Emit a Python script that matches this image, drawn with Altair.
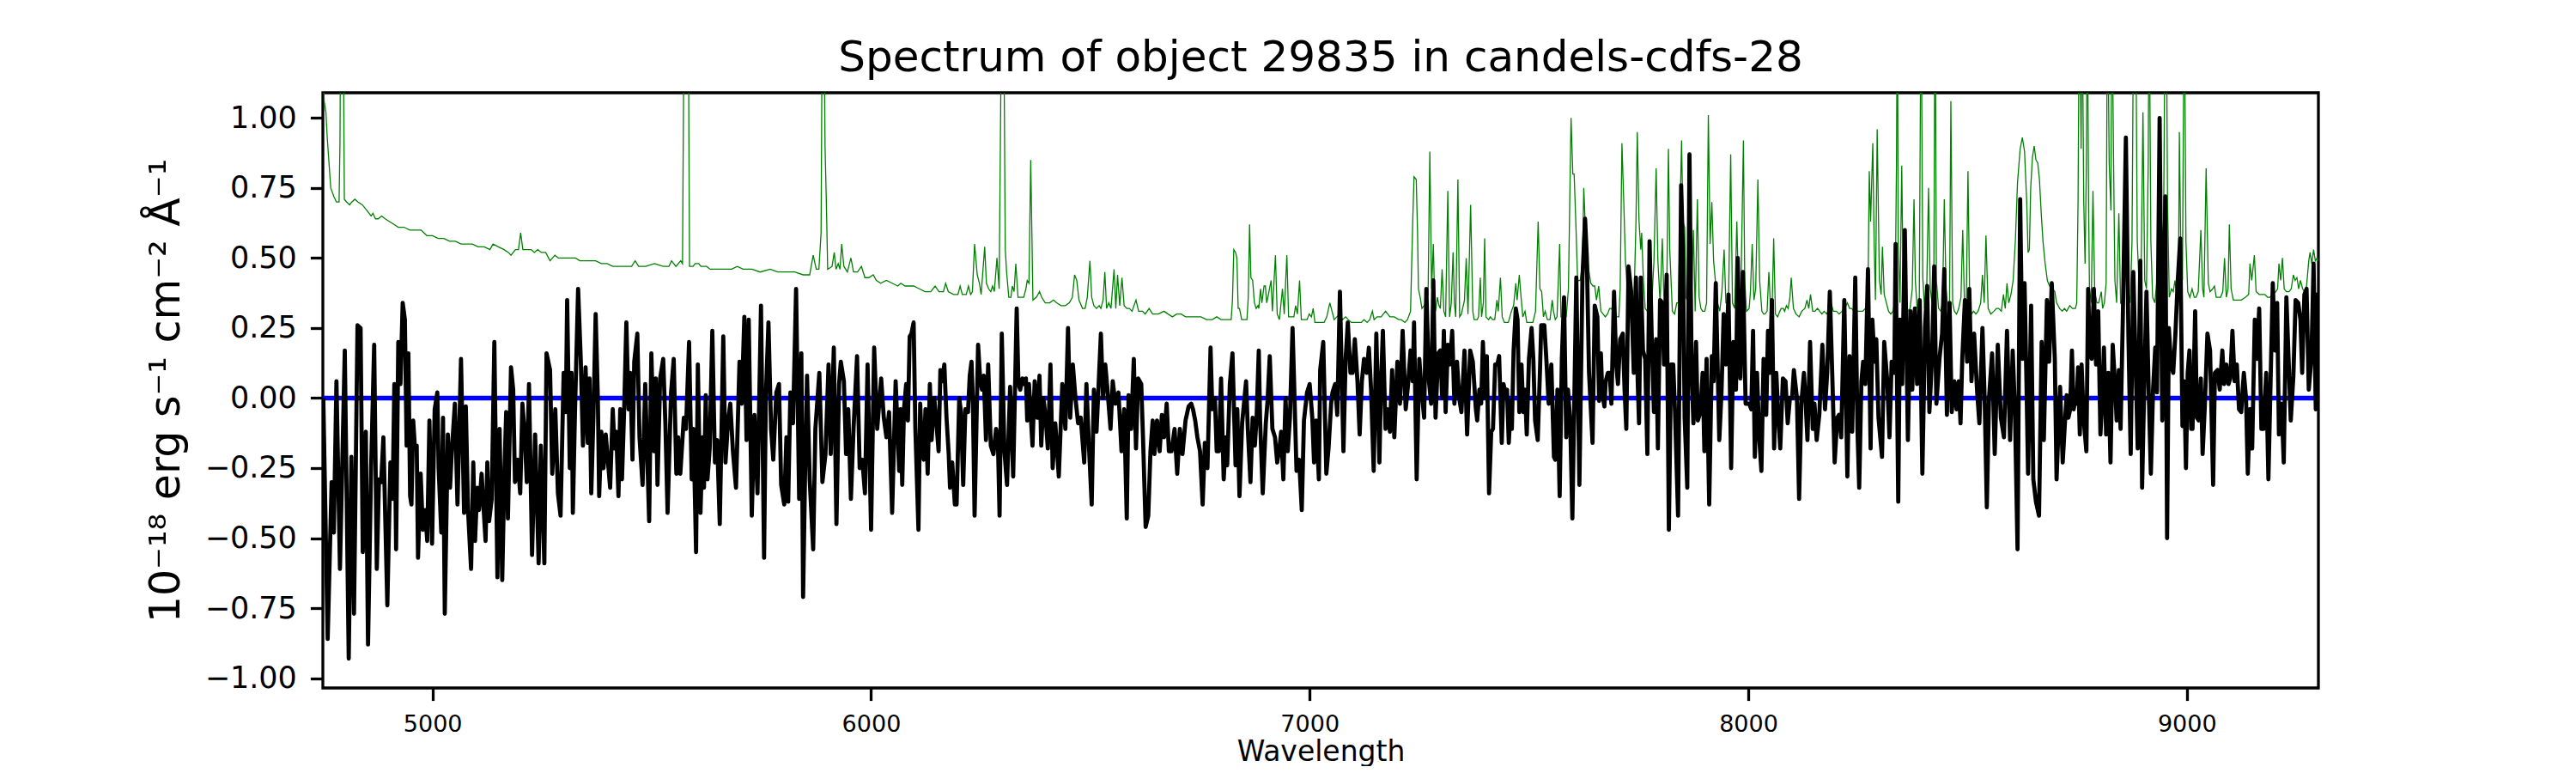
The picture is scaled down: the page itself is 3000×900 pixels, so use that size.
import altair as alt
import pandas as pd

# ---------------- data ----------------
# observed flux (black), pairs of (wavelength [A], flux [1e-18 erg/s/cm2/A])
flux_4750_5410 = [
    (4751, 0.00), (4761, -0.86), (4770, -0.30), (4775, -0.48), (4781, 0.06), (4789, -0.61),
    (4800, 0.17), (4809, -0.93), (4815, -0.21), (4821, -0.77), (4829, 0.26), (4836, 0.25),
    (4841, -0.55), (4848, -0.12), (4853, -0.88), (4860, -0.25), (4867, 0.19), (4873, -0.61),
    (4878, -0.29), (4883, -0.30), (4888, -0.14), (4897, -0.74), (4904, -0.23), (4909, -0.36),
    (4913, 0.05), (4917, -0.54), (4922, 0.20), (4927, 0.05), (4932, 0.34), (4937, 0.28),
    (4941, -0.17), (4945, 0.16), (4949, -0.35), (4952, -0.38), (4956, -0.08), (4960, -0.18),
    (4964, -0.17), (4967, -0.57), (4973, -0.27), (4978, -0.47), (4983, -0.40), (4988, -0.51),
    (4993, -0.08), (4999, -0.52), (5005, -0.04), (5011, 0.02), (5014, -0.25), (5020, -0.48),
    (5024, -0.07), (5028, -0.77), (5035, -0.13), (5040, -0.32), (5044, -0.19), (5051, -0.02),
    (5057, -0.38), (5065, 0.14), (5072, -0.41), (5076, -0.03), (5081, -0.40), (5088, -0.61),
    (5093, -0.23), (5097, -0.51), (5102, -0.32), (5106, -0.40), (5112, -0.27), (5116, -0.38),
    (5121, -0.51), (5125, -0.23), (5129, -0.44), (5135, -0.36), (5141, 0.20), (5148, -0.64),
    (5153, -0.11), (5159, -0.65), (5164, -0.26), (5168, -0.05), (5172, -0.43), (5179, 0.11),
    (5184, 0.03), (5188, -0.30), (5194, -0.22), (5200, -0.34), (5205, -0.02), (5210, -0.12),
    (5215, -0.30), (5220, 0.05), (5227, -0.56), (5234, -0.13), (5242, -0.59), (5247, -0.17),
    (5255, -0.59), (5260, 0.16), (5268, 0.10), (5273, -0.27), (5280, -0.04), (5286, -0.34),
    (5292, -0.42), (5299, 0.09), (5304, -0.05), (5307, 0.35), (5313, -0.25), (5317, 0.09),
    (5320, -0.41), (5325, -0.04), (5332, 0.39), (5338, 0.14), (5343, -0.17), (5349, 0.11),
    (5354, -0.16), (5358, 0.07), (5362, -0.34), (5367, -0.06), (5372, 0.30), (5377, 0.00),
    (5380, -0.35), (5385, -0.12), (5390, -0.25), (5395, -0.13), (5405, -0.32), (5411, -0.04),
]
flux_5410_6065 = [
    (5415, -0.18), (5419, -0.12), (5424, -0.35), (5428, -0.04), (5432, -0.29), (5437, -0.04),
    (5442, 0.27), (5447, -0.04), (5451, 0.09), (5456, -0.22), (5460, 0.13), (5467, 0.23),
    (5472, -0.14), (5479, -0.31), (5485, 0.05), (5494, -0.44), (5499, 0.16), (5505, -0.19),
    (5509, 0.07), (5513, -0.31), (5519, 0.07), (5526, 0.14), (5531, -0.09), (5536, -0.41),
    (5544, 0.02), (5550, 0.14), (5556, -0.27), (5560, -0.14), (5565, -0.27), (5573, -0.07),
    (5578, -0.11), (5585, 0.20), (5591, -0.29), (5595, -0.11), (5601, -0.55), (5605, 0.12),
    (5611, -0.41), (5616, -0.14), (5619, -0.32), (5623, 0.01), (5627, -0.29), (5632, -0.18),
    (5638, 0.24), (5644, -0.23), (5649, -0.15), (5655, -0.45), (5663, 0.22), (5668, -0.23),
    (5674, -0.08), (5679, -0.02), (5685, -0.19), (5692, -0.32), (5700, 0.13), (5705, -0.02),
    (5711, 0.29), (5716, -0.15), (5721, 0.28), (5728, -0.42), (5734, -0.06), (5741, -0.34),
    (5749, 0.33), (5756, -0.57), (5760, 0.00), (5766, 0.27), (5772, -0.11), (5777, -0.22),
    (5784, 0.02), (5790, 0.05), (5795, -0.31), (5802, -0.38), (5807, -0.14), (5811, -0.37),
    (5816, 0.02), (5822, -0.09), (5829, 0.39), (5836, -0.36), (5841, 0.16), (5845, -0.71),
    (5850, -0.22), (5854, 0.08), (5860, -0.29), (5868, -0.54), (5873, -0.11), (5882, 0.09),
    (5889, -0.30), (5896, -0.20), (5903, 0.12), (5908, -0.20), (5915, 0.18), (5921, -0.45),
    (5927, 0.05), (5931, 0.13), (5938, 0.06), (5943, -0.20), (5948, -0.04), (5954, -0.36),
    (5960, -0.11), (5968, 0.15), (5974, -0.25), (5980, -0.22), (5986, -0.34), (5992, 0.12),
    (6000, -0.47), (6007, 0.18), (6014, -0.11), (6023, 0.07), (6029, -0.07), (6035, -0.14),
    (6041, -0.05), (6048, -0.41), (6056, 0.06), (6064, -0.26),
]
flux_6065_6725 = [
    (6067, -0.04), (6071, -0.31), (6075, -0.04), (6080, 0.05), (6084, -0.08), (6088, 0.22),
    (6092, 0.23), (6097, 0.27), (6101, -0.11), (6108, -0.47), (6112, -0.02), (6116, -0.18),
    (6120, -0.22), (6124, -0.04), (6129, -0.27), (6134, 0.05), (6138, -0.15), (6144, 0.00),
    (6149, -0.09), (6154, -0.19), (6158, 0.10), (6162, 0.06), (6167, 0.12), (6172, -0.07),
    (6177, -0.20), (6180, -0.32), (6185, -0.23), (6191, -0.38), (6195, -0.38), (6201, 0.00),
    (6205, -0.05), (6210, -0.31), (6215, -0.04), (6221, -0.05), (6225, 0.08), (6229, 0.13),
    (6232, 0.00), (6236, -0.42), (6244, 0.19), (6249, 0.06), (6253, 0.03), (6257, 0.08),
    (6262, -0.15), (6267, 0.12), (6273, -0.17), (6279, -0.20), (6285, -0.11), (6289, -0.14),
    (6293, -0.42), (6298, 0.23), (6304, -0.19), (6310, -0.31), (6317, 0.04), (6324, -0.28),
    (6332, 0.32), (6336, 0.05), (6340, 0.03), (6345, 0.07), (6349, 0.05), (6353, 0.07),
    (6356, -0.08), (6360, 0.05), (6368, -0.17), (6373, 0.06), (6379, -0.07), (6384, 0.08),
    (6388, -0.17), (6393, 0.00), (6398, -0.07), (6403, -0.18), (6409, 0.12), (6414, -0.25),
    (6420, -0.09), (6428, -0.28), (6436, 0.05), (6443, -0.11), (6449, 0.25), (6454, -0.07),
    (6460, 0.12), (6466, 0.00), (6472, -0.09), (6478, -0.07), (6486, -0.23), (6491, 0.05),
    (6497, -0.18), (6503, -0.38), (6508, 0.03), (6514, -0.12), (6524, 0.23), (6529, 0.00),
    (6534, 0.12), (6539, 0.03), (6546, -0.11), (6551, 0.06), (6557, -0.02), (6564, 0.02),
    (6571, -0.19), (6577, -0.04), (6583, -0.43), (6587, 0.01), (6593, -0.11), (6599, 0.14),
    (6604, -0.18), (6609, 0.07), (6616, 0.05), (6620, -0.14), (6626, -0.46), (6632, -0.42),
    (6637, -0.19), (6642, -0.08), (6646, -0.20), (6652, -0.08), (6658, -0.19), (6663, -0.06),
    (6668, -0.14), (6674, -0.02), (6679, -0.19), (6685, -0.19), (6692, -0.11), (6698, -0.27),
    (6704, -0.11), (6710, -0.20), (6717, -0.08), (6724, -0.03),
]
flux_6725_7380 = [
    (6730, -0.02), (6734, -0.04), (6739, -0.08), (6744, -0.14), (6750, -0.19), (6756, -0.38),
    (6761, -0.16), (6767, -0.25), (6774, 0.18), (6778, -0.04), (6784, 0.00), (6788, -0.19),
    (6793, -0.19), (6798, 0.07), (6804, -0.29), (6809, -0.14), (6812, -0.24), (6818, 0.05),
    (6824, 0.16), (6831, -0.24), (6835, -0.04), (6840, -0.35), (6846, -0.09), (6855, 0.06),
    (6859, -0.11), (6865, -0.30), (6870, -0.07), (6875, -0.17), (6879, -0.07), (6884, 0.17),
    (6887, -0.08), (6893, -0.34), (6900, -0.09), (6904, -0.01), (6909, 0.15), (6915, -0.11),
    (6921, -0.14), (6926, -0.23), (6931, -0.18), (6935, -0.12), (6940, -0.29), (6945, 0.00),
    (6950, -0.19), (6955, -0.07), (6961, 0.25), (6965, 0.03), (6970, -0.26), (6976, -0.22),
    (6982, -0.40), (6987, -0.08), (6994, 0.02), (7000, 0.05), (7006, -0.07), (7010, -0.23),
    (7015, -0.08), (7021, -0.29), (7024, 0.10), (7031, 0.20), (7038, -0.27), (7043, -0.18),
    (7049, -0.02), (7052, 0.02), (7058, 0.05), (7063, -0.06), (7069, 0.38), (7077, -0.19),
    (7082, 0.14), (7087, 0.27), (7093, 0.09), (7098, 0.09), (7103, 0.21), (7109, 0.06),
    (7114, -0.13), (7119, 0.06), (7124, 0.14), (7130, 0.09), (7135, 0.18), (7140, 0.03),
    (7146, -0.26), (7152, 0.23), (7159, -0.23), (7163, 0.07), (7167, 0.24), (7173, -0.11),
    (7178, -0.04), (7183, -0.12), (7188, 0.10), (7193, -0.14), (7200, 0.13), (7206, -0.02),
    (7212, 0.24), (7219, -0.04), (7225, 0.06), (7230, 0.17), (7235, 0.06), (7238, 0.27),
    (7244, -0.29), (7250, 0.14), (7255, 0.03), (7261, -0.07), (7266, 0.39), (7272, 0.06),
    (7277, -0.02), (7282, 0.42), (7287, -0.07), (7293, 0.16), (7298, 0.17), (7302, 0.00),
    (7306, 0.24), (7310, -0.05), (7315, 0.19), (7320, 0.12), (7325, 0.24), (7330, -0.02),
    (7336, 0.13), (7341, 0.00), (7346, -0.05), (7353, 0.17), (7359, -0.13), (7366, 0.17),
    (7372, 0.13), (7379, -0.04),
]
flux_7380_8036 = [
    (7382, -0.08), (7387, 0.03), (7391, -0.02), (7395, 0.20), (7400, 0.00), (7404, 0.15),
    (7409, -0.34), (7414, -0.12), (7418, -0.11), (7423, 0.12), (7428, 0.12), (7432, 0.15),
    (7438, -0.16), (7442, 0.05), (7446, 0.02), (7450, 0.03), (7454, -0.16), (7459, -0.01),
    (7461, -0.11), (7465, 0.17), (7470, 0.32), (7474, 0.28), (7478, -0.05), (7483, 0.12),
    (7487, -0.05), (7491, 0.03), (7495, -0.13), (7500, 0.14), (7506, 0.25), (7510, 0.14),
    (7514, -0.08), (7520, -0.15), (7525, 0.09), (7528, 0.26), (7535, 0.26), (7540, 0.13),
    (7545, -0.02), (7551, 0.12), (7557, -0.21), (7560, -0.22), (7565, 0.03), (7570, -0.35),
    (7575, 0.14), (7580, 0.36), (7585, -0.14), (7589, 0.03), (7594, -0.08), (7599, -0.43),
    (7608, 0.43), (7615, -0.31), (7622, 0.43), (7628, 0.64), (7632, 0.50), (7637, 0.09),
    (7645, -0.16), (7650, 0.33), (7656, 0.29), (7660, -0.01), (7664, 0.16), (7667, 0.02),
    (7672, -0.03), (7675, 0.06), (7680, 0.09), (7684, 0.09), (7688, -0.02), (7694, 0.38),
    (7699, 0.12), (7703, 0.05), (7708, 0.21), (7714, 0.23), (7718, 0.03), (7722, -0.11),
    (7727, 0.47), (7733, 0.38), (7739, 0.09), (7744, 0.43), (7748, 0.06), (7751, -0.09),
    (7755, 0.43), (7760, 0.17), (7765, 0.14), (7770, -0.20), (7775, 0.56), (7780, 0.21),
    (7785, -0.05), (7790, 0.21), (7794, -0.18), (7799, 0.35), (7804, 0.34), (7808, 0.12),
    (7814, 0.44), (7819, -0.47), (7824, 0.12), (7829, 0.12), (7833, -0.05), (7840, -0.42),
    (7847, 0.76), (7851, 0.53), (7855, -0.07), (7861, -0.32), (7866, 0.87), (7871, 0.09),
    (7875, -0.09), (7881, 0.20), (7885, -0.08), (7891, -0.05), (7896, 0.09), (7900, -0.19),
    (7905, 0.14), (7911, -0.38), (7917, 0.15), (7921, 0.06), (7926, 0.41), (7934, -0.15),
    (7939, 0.02), (7944, 0.30), (7949, 0.12), (7955, 0.37), (7961, -0.25), (7966, 0.20),
    (7972, 0.03), (7976, 0.50), (7982, 0.07), (7988, 0.45), (7994, -0.02), (8002, -0.02),
    (8007, -0.04), (8011, 0.24), (8015, -0.21), (8020, 0.09), (8025, -0.14), (8030, -0.26),
    (8035, 0.14),
]
flux_8036_8695 = [
    (8041, -0.06), (8045, 0.24), (8049, 0.09), (8054, 0.35), (8059, -0.18), (8064, 0.09),
    (8068, -0.05), (8073, -0.18), (8079, 0.07), (8085, 0.06), (8090, -0.09), (8095, 0.00),
    (8100, 0.00), (8104, 0.10), (8111, 0.00), (8116, -0.36), (8121, -0.02), (8127, 0.09),
    (8131, -0.02), (8135, -0.15), (8141, 0.20), (8147, -0.11), (8151, -0.02), (8156, -0.15),
    (8162, -0.06), (8169, 0.19), (8175, -0.04), (8180, 0.09), (8186, 0.38), (8192, 0.06),
    (8197, -0.23), (8203, -0.07), (8207, -0.06), (8212, -0.14), (8219, 0.35), (8226, -0.28),
    (8231, 0.15), (8237, -0.12), (8244, 0.43), (8249, -0.11), (8253, -0.32), (8258, 0.06),
    (8262, 0.13), (8267, 0.05), (8273, 0.46), (8279, -0.18), (8283, 0.28), (8288, 0.13),
    (8292, 0.21), (8297, -0.07), (8305, -0.21), (8310, 0.20), (8317, 0.06), (8322, -0.14),
    (8327, 0.13), (8333, 0.09), (8336, 0.55), (8342, -0.37), (8346, 0.28), (8351, 0.05),
    (8357, 0.60), (8364, -0.15), (8370, 0.31), (8374, 0.03), (8380, 0.32), (8385, 0.05),
    (8391, 0.35), (8397, -0.27), (8403, 0.25), (8408, 0.40), (8413, -0.05), (8419, 0.14),
    (8424, 0.47), (8429, -0.02), (8436, 0.14), (8442, 0.23), (8447, 0.46), (8453, -0.06),
    (8459, 0.34), (8464, -0.05), (8470, 0.06), (8475, -0.04), (8480, 0.06), (8484, -0.09),
    (8488, 0.14), (8494, 0.35), (8499, 0.13), (8504, 0.39), (8509, 0.06), (8515, 0.23),
    (8522, 0.02), (8527, -0.09), (8534, 0.25), (8539, 0.00), (8544, -0.39), (8549, 0.00),
    (8556, 0.16), (8562, -0.20), (8569, 0.19), (8576, -0.07), (8583, -0.14), (8590, 0.24),
    (8597, -0.15), (8603, 0.17), (8608, -0.04), (8614, -0.54), (8620, 0.71), (8625, 0.14),
    (8630, 0.41), (8634, 0.09), (8638, -0.27), (8645, 0.33), (8650, -0.29), (8656, -0.37),
    (8663, -0.42), (8669, 0.20), (8674, -0.15), (8681, 0.35), (8686, 0.13), (8692, 0.41),
]
flux_8695_9300 = [
    (8699, 0.14), (8703, -0.29), (8711, 0.04), (8717, -0.23), (8722, -0.09), (8726, 0.01),
    (8730, -0.07), (8734, -0.04), (8738, 0.17), (8742, -0.04), (8746, 0.00), (8749, -0.02),
    (8752, 0.11), (8756, -0.13), (8760, 0.12), (8765, -0.08), (8771, -0.19), (8775, 0.39),
    (8778, 0.21), (8783, 0.14), (8788, 0.39), (8793, 0.12), (8798, 0.31), (8803, -0.13),
    (8807, -0.01), (8811, 0.18), (8816, -0.13), (8821, 0.09), (8826, -0.23), (8831, 0.19),
    (8836, 0.06), (8840, -0.08), (8845, 0.10), (8849, -0.11), (8854, 0.28), (8861, 0.93),
    (8867, 0.21), (8872, -0.20), (8878, 0.45), (8883, 0.14), (8888, -0.18), (8894, 0.49),
    (8898, -0.32), (8903, 0.05), (8908, 0.38), (8913, 0.03), (8918, -0.27), (8923, 0.03),
    (8928, 0.18), (8932, 0.02), (8938, 1.00), (8944, -0.08), (8951, 0.72), (8955, -0.50),
    (8959, 0.25), (8964, 0.12), (8969, 0.09), (8974, 0.23), (8979, 0.41), (8985, 0.57),
    (8990, -0.10), (8994, 0.06), (8998, -0.25), (9002, 0.09), (9006, 0.17), (9010, -0.11),
    (9013, -0.11), (9019, 0.31), (9023, -0.07), (9027, -0.08), (9032, 0.07), (9036, -0.20),
    (9041, -0.03), (9047, 0.23), (9053, 0.17), (9060, -0.31), (9064, 0.09), (9070, 0.10),
    (9075, 0.03), (9081, 0.17), (9085, 0.05), (9090, 0.12), (9095, 0.05), (9099, 0.07),
    (9104, 0.24), (9109, 0.06), (9114, 0.12), (9119, -0.04), (9124, -0.05), (9130, 0.09),
    (9135, 0.00), (9139, -0.27), (9144, -0.04), (9149, -0.18), (9155, 0.28), (9160, 0.14),
    (9165, 0.32), (9170, -0.11), (9175, -0.11), (9181, 0.09), (9186, -0.29), (9192, 0.13),
    (9196, 0.41), (9201, 0.17), (9206, 0.34), (9210, -0.13), (9216, -0.02), (9221, -0.23),
    (9227, 0.36), (9232, 0.14), (9237, -0.08), (9243, 0.08), (9248, 0.35), (9254, 0.34),
    (9259, 0.28), (9263, 0.09), (9268, 0.37), (9273, 0.39), (9278, 0.03), (9284, 0.14),
    (9289, 0.48), (9294, -0.04), (9297, 0.37), (9300, 0.14),
]

# noise / sky spectrum (green), pairs of (wavelength, flux)
noise_4750_5410 = [
    (4750, 1.30), (4753, 1.06), (4757, 1.02), (4760, 0.93), (4764, 0.84), (4768, 0.75),
    (4775, 0.72), (4781, 0.70), (4787, 0.70), (4789, 0.91), (4791, 1.50), (4796, 1.50),
    (4799, 0.71), (4804, 0.70), (4811, 0.69), (4816, 0.70), (4823, 0.71), (4830, 0.70),
    (4840, 0.69), (4850, 0.67), (4860, 0.65), (4864, 0.66), (4870, 0.64), (4876, 0.64),
    (4884, 0.65), (4892, 0.64), (4902, 0.63), (4912, 0.62), (4922, 0.61), (4935, 0.61),
    (4948, 0.60), (4961, 0.60), (4974, 0.60), (4987, 0.58), (5000, 0.58), (5013, 0.57),
    (5026, 0.57), (5039, 0.56), (5052, 0.56), (5065, 0.55), (5078, 0.55), (5091, 0.55),
    (5104, 0.54), (5118, 0.54), (5131, 0.53), (5138, 0.55), (5150, 0.54), (5163, 0.53),
    (5173, 0.52), (5179, 0.51), (5189, 0.53), (5196, 0.53), (5201, 0.59), (5206, 0.53),
    (5215, 0.53), (5225, 0.53), (5232, 0.52), (5240, 0.53), (5248, 0.52), (5258, 0.52),
    (5268, 0.49), (5279, 0.51), (5287, 0.50), (5300, 0.50), (5313, 0.50), (5326, 0.50),
    (5336, 0.49), (5346, 0.49), (5359, 0.49), (5372, 0.49), (5385, 0.48), (5398, 0.48),
    (5411, 0.47),
]
noise_5410_6070 = [
    (5415, 0.47), (5434, 0.47), (5454, 0.47), (5462, 0.49), (5470, 0.47), (5486, 0.47),
    (5506, 0.48), (5526, 0.47), (5539, 0.47), (5545, 0.49), (5555, 0.47), (5566, 0.49),
    (5570, 0.48), (5574, 1.50), (5583, 1.50), (5586, 0.47), (5594, 0.47), (5599, 0.48),
    (5607, 0.48), (5612, 0.47), (5625, 0.47), (5633, 0.46), (5646, 0.46), (5656, 0.46),
    (5669, 0.46), (5682, 0.46), (5695, 0.47), (5708, 0.46), (5728, 0.46), (5747, 0.45),
    (5770, 0.46), (5787, 0.45), (5806, 0.45), (5826, 0.45), (5845, 0.44), (5860, 0.44),
    (5868, 0.51), (5875, 0.46), (5881, 0.46), (5886, 0.59), (5889, 1.50), (5892, 1.50),
    (5895, 0.90), (5898, 0.70), (5901, 0.46), (5911, 0.47), (5916, 0.52), (5920, 0.46),
    (5925, 0.48), (5929, 0.46), (5933, 0.55), (5938, 0.47), (5946, 0.45), (5954, 0.50),
    (5960, 0.45), (5969, 0.45), (5978, 0.47), (5986, 0.43), (5995, 0.43), (6005, 0.44),
    (6012, 0.42), (6022, 0.41), (6035, 0.42), (6048, 0.41), (6061, 0.40), (6068, 0.41),
]
noise_6070_6725 = [
    (6077, 0.40), (6097, 0.40), (6110, 0.39), (6123, 0.38), (6136, 0.38), (6146, 0.40),
    (6155, 0.38), (6165, 0.38), (6170, 0.41), (6176, 0.38), (6188, 0.37), (6198, 0.37),
    (6203, 0.40), (6208, 0.37), (6217, 0.37), (6222, 0.40), (6227, 0.37), (6231, 0.38),
    (6236, 0.55), (6242, 0.44), (6247, 0.41), (6251, 0.37), (6259, 0.54), (6263, 0.41),
    (6268, 0.39), (6273, 0.38), (6277, 0.40), (6281, 0.38), (6287, 0.50), (6292, 0.39),
    (6298, 1.50), (6302, 1.50), (6306, 0.53), (6309, 0.45), (6314, 0.36), (6319, 0.36),
    (6322, 0.40), (6326, 0.38), (6330, 0.48), (6335, 0.36), (6341, 0.36), (6348, 0.36),
    (6353, 0.39), (6356, 0.42), (6360, 0.41), (6364, 0.85), (6369, 0.35), (6377, 0.36),
    (6384, 0.38), (6389, 0.36), (6397, 0.34), (6407, 0.34), (6416, 0.35), (6423, 0.34),
    (6433, 0.33), (6443, 0.33), (6452, 0.34), (6459, 0.36), (6464, 0.44), (6469, 0.42),
    (6474, 0.35), (6482, 0.32), (6488, 0.32), (6493, 0.36), (6499, 0.49), (6503, 0.36),
    (6508, 0.33), (6514, 0.32), (6520, 0.33), (6524, 0.32), (6529, 0.35), (6533, 0.45),
    (6537, 0.32), (6542, 0.34), (6547, 0.32), (6554, 0.46), (6558, 0.32), (6562, 0.44),
    (6567, 0.33), (6572, 0.43), (6577, 0.33), (6583, 0.32), (6589, 0.32), (6595, 0.31),
    (6604, 0.35), (6610, 0.31), (6619, 0.31), (6625, 0.30), (6634, 0.32), (6642, 0.30),
    (6655, 0.30), (6668, 0.31), (6677, 0.30), (6687, 0.29), (6697, 0.30), (6707, 0.30),
    (6717, 0.29), (6724, 0.29),
]
noise_6725_7380 = [
    (6739, 0.29), (6752, 0.29), (6765, 0.28), (6778, 0.28), (6788, 0.29), (6798, 0.28),
    (6811, 0.28), (6821, 0.28), (6824, 0.35), (6827, 0.53), (6831, 0.52), (6834, 0.50),
    (6837, 0.32), (6840, 0.32), (6845, 0.28), (6850, 0.28), (6857, 0.28), (6860, 0.36),
    (6863, 0.62), (6866, 0.43), (6870, 0.42), (6874, 0.34), (6878, 0.32), (6882, 0.33),
    (6884, 0.32), (6888, 0.39), (6891, 0.34), (6896, 0.40), (6899, 0.40), (6902, 0.34),
    (6906, 0.37), (6912, 0.42), (6915, 0.31), (6922, 0.51), (6926, 0.30), (6931, 0.28),
    (6938, 0.39), (6942, 0.30), (6948, 0.51), (6952, 0.29), (6958, 0.29), (6964, 0.29),
    (6968, 0.33), (6972, 0.30), (6977, 0.42), (6981, 0.28), (6987, 0.28), (6994, 0.28),
    (6999, 0.30), (7004, 0.29), (7008, 0.32), (7012, 0.27), (7020, 0.27), (7026, 0.27),
    (7033, 0.27), (7039, 0.29), (7046, 0.34), (7051, 0.31), (7056, 0.28), (7062, 0.29),
    (7069, 0.30), (7075, 0.28), (7082, 0.29), (7088, 0.28), (7095, 0.27), (7101, 0.27),
    (7111, 0.27), (7118, 0.27), (7124, 0.28), (7131, 0.27), (7137, 0.28), (7143, 0.31),
    (7147, 0.28), (7154, 0.29), (7163, 0.29), (7173, 0.31), (7183, 0.29), (7193, 0.29),
    (7203, 0.28), (7209, 0.28), (7217, 0.27), (7223, 0.28), (7230, 0.31), (7235, 0.63),
    (7238, 0.79), (7243, 0.78), (7246, 0.59), (7248, 0.39), (7252, 0.36), (7256, 0.32),
    (7261, 0.33), (7265, 0.34), (7270, 0.37), (7274, 0.88), (7278, 0.39), (7282, 0.55),
    (7285, 0.35), (7287, 0.31), (7291, 0.36), (7295, 0.33), (7298, 0.32), (7302, 0.46),
    (7306, 0.31), (7310, 0.29), (7315, 0.74), (7319, 0.29), (7323, 0.34), (7327, 0.52),
    (7330, 0.34), (7333, 0.29), (7338, 0.78), (7342, 0.29), (7346, 0.30), (7353, 0.35),
    (7357, 0.50), (7361, 0.30), (7367, 0.69), (7372, 0.31),
]
noise_7375_8036 = [
    (7375, 0.28), (7382, 0.28), (7385, 0.29), (7389, 0.43), (7392, 0.29), (7396, 0.34),
    (7399, 0.57), (7402, 0.29), (7408, 0.28), (7412, 0.29), (7417, 0.28), (7422, 0.28),
    (7427, 0.35), (7430, 0.31), (7435, 0.43), (7439, 0.29), (7444, 0.27), (7453, 0.27),
    (7460, 0.31), (7465, 0.33), (7470, 0.41), (7473, 0.35), (7478, 0.44), (7482, 0.36),
    (7486, 0.29), (7491, 0.31), (7495, 0.27), (7502, 0.27), (7509, 0.27), (7515, 0.31),
    (7521, 0.63), (7525, 0.39), (7529, 0.38), (7533, 0.29), (7537, 0.31), (7542, 0.28),
    (7548, 0.28), (7553, 0.35), (7556, 0.31), (7560, 0.28), (7564, 0.29), (7570, 0.55),
    (7573, 0.29), (7580, 0.29), (7585, 0.29), (7590, 0.39), (7594, 0.80), (7596, 1.00),
    (7600, 0.80), (7603, 0.80), (7607, 0.62), (7611, 0.42), (7617, 0.42), (7622, 0.48),
    (7625, 0.75), (7628, 0.63), (7632, 0.53), (7637, 0.45), (7641, 0.41), (7646, 0.40),
    (7650, 0.40), (7654, 0.35), (7659, 0.40), (7664, 0.31), (7669, 0.30), (7674, 0.29),
    (7679, 0.30), (7684, 0.32), (7688, 0.32), (7695, 0.30), (7700, 0.29), (7705, 0.29),
    (7708, 0.39), (7712, 0.91), (7716, 0.71), (7720, 0.49), (7724, 0.39), (7729, 0.32),
    (7734, 0.29), (7739, 0.31), (7744, 0.63), (7747, 0.95), (7751, 0.63), (7755, 0.53),
    (7757, 0.59), (7761, 0.42), (7765, 0.32), (7770, 0.31), (7775, 0.34), (7780, 0.34),
    (7785, 0.49), (7790, 0.82), (7794, 0.49), (7799, 0.34), (7804, 0.57), (7808, 0.34),
    (7814, 0.36), (7818, 0.89), (7821, 0.53), (7827, 0.31), (7832, 0.30), (7837, 0.34),
    (7841, 0.34), (7845, 0.70), (7848, 0.92), (7851, 0.63), (7855, 0.61), (7858, 0.36),
    (7862, 0.34), (7866, 0.42), (7870, 0.31), (7875, 0.60), (7879, 0.31), (7884, 0.71),
    (7888, 0.36), (7892, 0.32), (7896, 0.31), (7901, 0.31), (7905, 0.34), (7909, 1.01),
    (7913, 0.55), (7917, 0.70), (7921, 0.49), (7925, 0.42), (7930, 0.34), (7935, 0.31),
    (7940, 0.38), (7945, 0.53), (7949, 0.34), (7955, 0.34), (7960, 0.87), (7964, 0.34),
    (7969, 0.32), (7974, 0.63), (7978, 0.36), (7983, 0.36), (7989, 0.92), (7992, 0.42),
    (7996, 0.31), (8002, 0.32), (8005, 0.38), (8009, 0.55), (8013, 0.35), (8017, 0.39),
    (8022, 0.78), (8026, 0.42), (8031, 0.31), (8035, 0.30),
]
noise_8036_8695 = [
    (8038, 0.30), (8043, 0.31), (8047, 0.45), (8051, 0.32), (8055, 0.36), (8058, 0.57),
    (8062, 0.30), (8067, 0.29), (8072, 0.31), (8075, 0.32), (8080, 0.32), (8083, 0.31),
    (8087, 0.33), (8091, 0.32), (8095, 0.36), (8098, 0.43), (8103, 0.32), (8109, 0.30),
    (8116, 0.29), (8122, 0.31), (8129, 0.32), (8134, 0.35), (8138, 0.32), (8142, 0.37),
    (8147, 0.31), (8152, 0.31), (8158, 0.32), (8163, 0.31), (8168, 0.30), (8173, 0.31),
    (8179, 0.30), (8184, 0.32), (8189, 0.34), (8194, 0.31), (8201, 0.31), (8207, 0.30),
    (8214, 0.31), (8220, 0.32), (8226, 0.34), (8231, 0.32), (8236, 0.32), (8241, 0.31),
    (8248, 0.31), (8254, 0.31), (8261, 0.31), (8267, 0.32), (8273, 0.38), (8276, 0.81),
    (8279, 0.63), (8284, 0.91), (8287, 0.56), (8290, 0.35), (8294, 0.96), (8299, 0.42),
    (8303, 0.37), (8306, 0.54), (8310, 0.37), (8315, 0.34), (8320, 0.31), (8325, 0.30),
    (8330, 0.31), (8335, 0.35), (8338, 0.84), (8340, 1.50), (8342, 0.56), (8346, 0.34),
    (8350, 0.83), (8353, 0.42), (8357, 0.36), (8364, 0.31), (8369, 0.32), (8374, 0.39),
    (8378, 0.71), (8381, 0.42), (8385, 0.32), (8390, 0.34), (8394, 1.50), (8398, 0.43),
    (8402, 0.32), (8407, 0.39), (8411, 0.75), (8415, 0.39), (8419, 0.34), (8423, 0.36),
    (8426, 1.50), (8429, 0.42), (8434, 0.32), (8439, 0.31), (8443, 0.34), (8447, 0.71),
    (8451, 0.39), (8455, 0.32), (8459, 0.34), (8462, 1.06), (8466, 0.34), (8470, 0.31),
    (8475, 0.30), (8480, 0.32), (8485, 0.36), (8489, 0.60), (8493, 0.34), (8497, 0.32),
    (8501, 0.81), (8505, 0.34), (8509, 0.30), (8514, 0.31), (8519, 0.30), (8524, 0.31),
    (8530, 0.34), (8534, 0.44), (8538, 0.34), (8542, 0.58), (8547, 0.32), (8553, 0.30),
    (8560, 0.31), (8566, 0.32), (8571, 0.32), (8577, 0.31), (8582, 0.37), (8586, 0.32),
    (8590, 0.41), (8594, 0.34), (8599, 0.37), (8604, 0.42), (8609, 0.56), (8614, 0.77),
    (8620, 0.89), (8625, 0.93), (8630, 0.88), (8635, 0.70), (8638, 0.52), (8641, 0.53),
    (8644, 0.75), (8648, 0.86), (8652, 0.90), (8656, 0.85), (8660, 0.84), (8664, 0.78),
    (8668, 0.66), (8672, 0.56), (8677, 0.48), (8682, 0.42), (8687, 0.40), (8692, 0.40),
]
noise_8695_9300 = [
    (8694, 0.39), (8699, 0.38), (8703, 0.34), (8710, 0.32), (8716, 0.31), (8721, 0.32),
    (8726, 0.31), (8733, 0.33), (8739, 0.32), (8746, 0.32), (8749, 0.34), (8752, 0.70),
    (8755, 1.50), (8759, 0.89), (8761, 1.50), (8765, 0.70), (8768, 0.48), (8771, 0.84),
    (8773, 1.50), (8776, 0.70), (8778, 0.39), (8782, 0.34), (8786, 0.74), (8790, 0.38),
    (8795, 0.34), (8799, 0.34), (8805, 0.38), (8808, 0.32), (8812, 0.34), (8816, 0.41),
    (8819, 1.50), (8823, 0.84), (8827, 0.67), (8829, 1.50), (8833, 0.84), (8836, 0.42),
    (8840, 0.34), (8845, 0.66), (8849, 0.34), (8854, 0.35), (8859, 0.42), (8863, 0.56),
    (8867, 0.38), (8871, 0.34), (8875, 0.56), (8879, 1.50), (8883, 1.50), (8887, 0.56),
    (8891, 0.41), (8896, 0.48), (8900, 1.02), (8904, 0.42), (8908, 0.39), (8912, 0.84),
    (8914, 1.50), (8918, 0.56), (8922, 0.36), (8927, 0.34), (8932, 0.42), (8936, 0.63),
    (8942, 0.56), (8947, 0.62), (8951, 1.50), (8953, 1.50), (8956, 0.70), (8960, 0.36),
    (8965, 0.39), (8969, 0.38), (8973, 0.42), (8977, 0.36), (8981, 0.42), (8983, 0.95),
    (8986, 0.56), (8990, 0.42), (8994, 1.50), (8998, 0.56), (9002, 0.38), (9007, 0.36),
    (9012, 0.39), (9017, 0.36), (9021, 0.36), (9026, 0.38), (9032, 0.60), (9036, 0.39),
    (9039, 0.36), (9044, 0.82), (9049, 0.41), (9053, 0.38), (9059, 0.39), (9063, 0.40),
    (9067, 0.36), (9072, 0.36), (9077, 0.36), (9082, 0.38), (9086, 0.50), (9090, 0.36),
    (9094, 0.39), (9097, 0.62), (9101, 0.39), (9106, 0.35), (9114, 0.35), (9124, 0.35),
    (9134, 0.36), (9141, 0.37), (9144, 0.48), (9148, 0.42), (9154, 0.51), (9158, 0.38),
    (9165, 0.37), (9171, 0.37), (9178, 0.37), (9184, 0.36), (9190, 0.36), (9196, 0.37),
    (9203, 0.38), (9207, 0.39), (9210, 0.48), (9214, 0.42), (9218, 0.50), (9222, 0.39),
    (9227, 0.38), (9233, 0.38), (9238, 0.39), (9243, 0.44), (9247, 0.42), (9251, 0.43),
    (9255, 0.39), (9259, 0.42), (9264, 0.39), (9268, 0.38), (9273, 0.40), (9278, 0.49),
    (9281, 0.52), (9285, 0.48), (9289, 0.53), (9293, 0.49), (9297, 0.50), (9300, 0.49),
]

zero_level = [0.0]

x_ticks = [5000, 6000, 7000, 8000, 9000]
y_ticks = [-1.0, -0.75, -0.5, -0.25, 0.0, 0.25, 0.5, 0.75, 1.0]
x_range = [4750, 9300]
y_range = [-1.035, 1.09]

title_text = "Spectrum of object 29835 in candels-cdfs-28"
x_title = "Wavelength"
y_title = "10\u207b\u00b9\u2078 erg s\u207b\u00b9 cm\u207b\u00b2 \u00c5\u207b\u00b9"

# ---------------- build the chart ----------------
flux_pts = (flux_4750_5410 + flux_5410_6065 + flux_6065_6725 + flux_6725_7380
            + flux_7380_8036 + flux_8036_8695 + flux_8695_9300)
noise_pts = (noise_4750_5410 + noise_5410_6070 + noise_6070_6725 + noise_6725_7380
             + noise_7375_8036 + noise_8036_8695 + noise_8695_9300)

flux_df = pd.DataFrame(flux_pts, columns=["wave", "flux"])
flux_df["order"] = range(len(flux_df))
noise_df = pd.DataFrame(noise_pts, columns=["wave", "flux"])
noise_df["order"] = range(len(noise_df))
zero_df = pd.DataFrame({"flux": zero_level})

FONT = "DejaVu Sans"
W, H = 2324, 693

xscale = alt.Scale(domain=x_range, nice=False, zero=False)
yscale = alt.Scale(domain=y_range, nice=False, zero=False)

xaxis = alt.Axis(
    values=x_ticks, format="d", grid=False, domain=False,
    labelFont=FONT, labelFontSize=27, labelColor="black",
    labelBaseline="alphabetic", labelPadding=36,
    tickSize=14.6, tickWidth=3.3, tickColor="black",
    titleFont=FONT, titleFontSize=33, titleFontWeight="normal", titleColor="black",
    titleBaseline="alphabetic", titleX=W / 2, titleY=84, titleAlign="center",
)
yaxis = alt.Axis(
    values=y_ticks, format=".2f", grid=False, domain=False,
    labelFont=FONT, labelFontSize=35, labelColor="black", labelPadding=16,
    tickSize=14.6, tickWidth=3.3, tickColor="black",
    titleFont=FONT, titleFontSize=49, titleFontWeight="normal", titleColor="black",
    titleBaseline="alphabetic", titleAngle=270, titleAlign="center",
    titleX=-168, titleY=H / 2,
)

xenc = alt.X("wave:Q", scale=xscale, axis=xaxis, title=x_title)
yenc = alt.Y("flux:Q", scale=yscale, axis=yaxis, title=y_title)

noise_line = alt.Chart(noise_df).mark_line(
    color="#008000", strokeWidth=1.3, clip=True
).encode(x=xenc, y=yenc, order="order:Q")

zero_rule = alt.Chart(zero_df).mark_rule(
    color="#0000ff", strokeWidth=5.5, clip=True
).encode(y=yenc)

flux_line = alt.Chart(flux_df).mark_line(
    color="black", strokeWidth=4.8, strokeJoin="round", clip=True
).encode(x=xenc, y=yenc, order="order:Q")

chart = alt.layer(noise_line, zero_rule, flux_line).properties(
    width=W,
    height=H,
    background="white",
    title=alt.TitleParams(
        text=title_text, font=FONT, fontSize=50, fontWeight="normal", color="black",
        anchor="middle", baseline="alphabetic", offset=-25, frame="group",
    ),
    autosize=alt.AutoSizeParams(type="none"),
    padding={"left": 368, "top": 100, "right": 292, "bottom": 91},
).configure_view(
    stroke="black", strokeWidth=3.3, fill="white"
)

chart.save("out.html", embed_options={"renderer": "svg", "actions": False})
